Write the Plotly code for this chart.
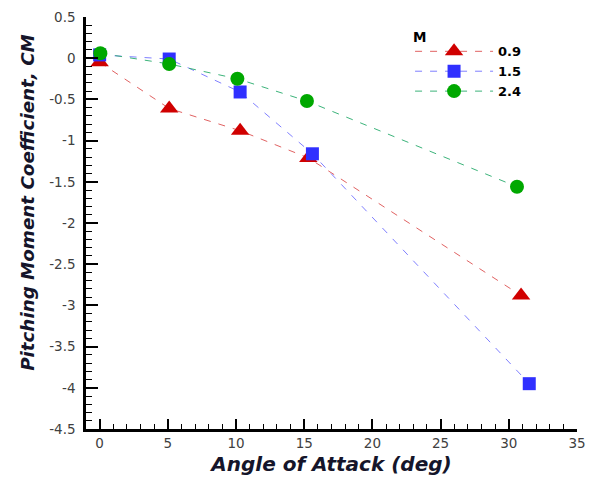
import plotly.graph_objects as go

# Data
aoa_09 = [0.0, 5.1, 10.3, 15.3, 30.9]
cm_09 = [-0.05, -0.61, -0.88, -1.21, -2.88]
aoa_15 = [0.0, 5.1, 10.3, 15.6, 31.5]
cm_15 = [0.04, -0.01, -0.41, -1.16, -3.95]
aoa_24 = [0.05, 5.1, 10.1, 15.2, 30.6]
cm_24 = [0.06, -0.07, -0.25, -0.52, -1.56]

y_tickvals = [0.5, 0, -0.5, -1, -1.5, -2, -2.5, -3, -3.5, -4, -4.5]
y_ticktext = ["0.5", "0", "-0.5", "-1", "-1.5", "-2", "-2.5", "-3", "-3.5", "-4", "-4.5"]
x_tickvals = [0, 5, 10, 15, 20, 25, 30, 35]
x_ticktext = ["0", "5", "10", "15", "20", "25", "30", "35"]
legend_title = "M"
x_title = "Angle of Attack (deg)"
y_title = "Pitching Moment Coefficient, CM"

fig = go.Figure()
series = [
    ("0.9", aoa_09, cm_09, "#D00000", "rgba(222,90,90,0.95)", "triangle-up", 16),
    ("1.5", aoa_15, cm_15, "#3030FF", "rgba(120,120,255,0.95)", "square", 13),
    ("2.4", aoa_24, cm_24, "#00A800", "rgba(50,175,115,0.95)", "circle", 14),
]
for name, x, y, mc, lc, sym, sz in series:
    fig.add_trace(go.Scatter(
        x=x, y=y, name=name, mode="lines+markers",
        line=dict(color=lc, width=1, dash="7px,8px"),
        marker=dict(color=mc, symbol=sym, size=sz, line=dict(width=0)),
    ))

tick_font = dict(family="DejaVu Sans, Verdana, sans-serif", size=13.5, color="#404040")
title_family = "DejaVu Sans, Verdana, sans-serif"

fig.add_annotation(
    xref="paper", yref="paper", x=0.662, y=0.952, xanchor="left", yanchor="middle",
    text="<b>" + legend_title + "</b>", showarrow=False,
    font=dict(family="DejaVu Sans, Verdana", size=13.5, color="black"),
)
fig.add_annotation(
    xref="paper", yref="paper", x=-0.118, y=0.549, xanchor="center", yanchor="middle",
    text="<b><i>" + y_title + "</i></b>", showarrow=False, textangle=-90,
    font=dict(family=title_family, size=18.3, color="#15152a"),
)

fig.update_layout(
    width=590, height=478,
    margin=dict(l=86, r=13, t=17, b=49),
    paper_bgcolor="white", plot_bgcolor="white",
    showlegend=True,
    legend=dict(
        x=0.66, y=0.953, xanchor="left", yanchor="top",
        bgcolor="rgba(0,0,0,0)",
        font=dict(family="DejaVu Sans, Verdana", size=13, color="black", weight="bold"),
        itemwidth=78, tracegroupgap=0,
    ),
    xaxis=dict(
        range=[-1, 35], showgrid=False, zeroline=False, automargin=False,
        showline=True, linecolor="black", linewidth=2.5,
        ticks="inside", ticklen=10, tickwidth=2, tickcolor="black",
        tickvals=x_tickvals, ticktext=x_ticktext, tickfont=tick_font,
        minor=dict(dtick=1, ticks="inside", ticklen=5, tickwidth=1, tickcolor="black", showgrid=False),
        title=dict(text="<b><i>" + x_title + "</i></b>",
                   font=dict(family=title_family, size=20, color="#15152a"), standoff=8),
    ),
    yaxis=dict(
        range=[-4.5, 0.5], showgrid=False, zeroline=False, automargin=False,
        showline=True, linecolor="black", linewidth=2.5,
        ticks="inside", ticklen=12, tickwidth=2, tickcolor="black",
        tickvals=y_tickvals, ticktext=y_ticktext, tickfont=tick_font,
        ticklabelstandoff=5,
        minor=dict(dtick=0.1, ticks="inside", ticklen=6, tickwidth=1, tickcolor="black", showgrid=False),
    ),
)

fig.write_html("out.html")
